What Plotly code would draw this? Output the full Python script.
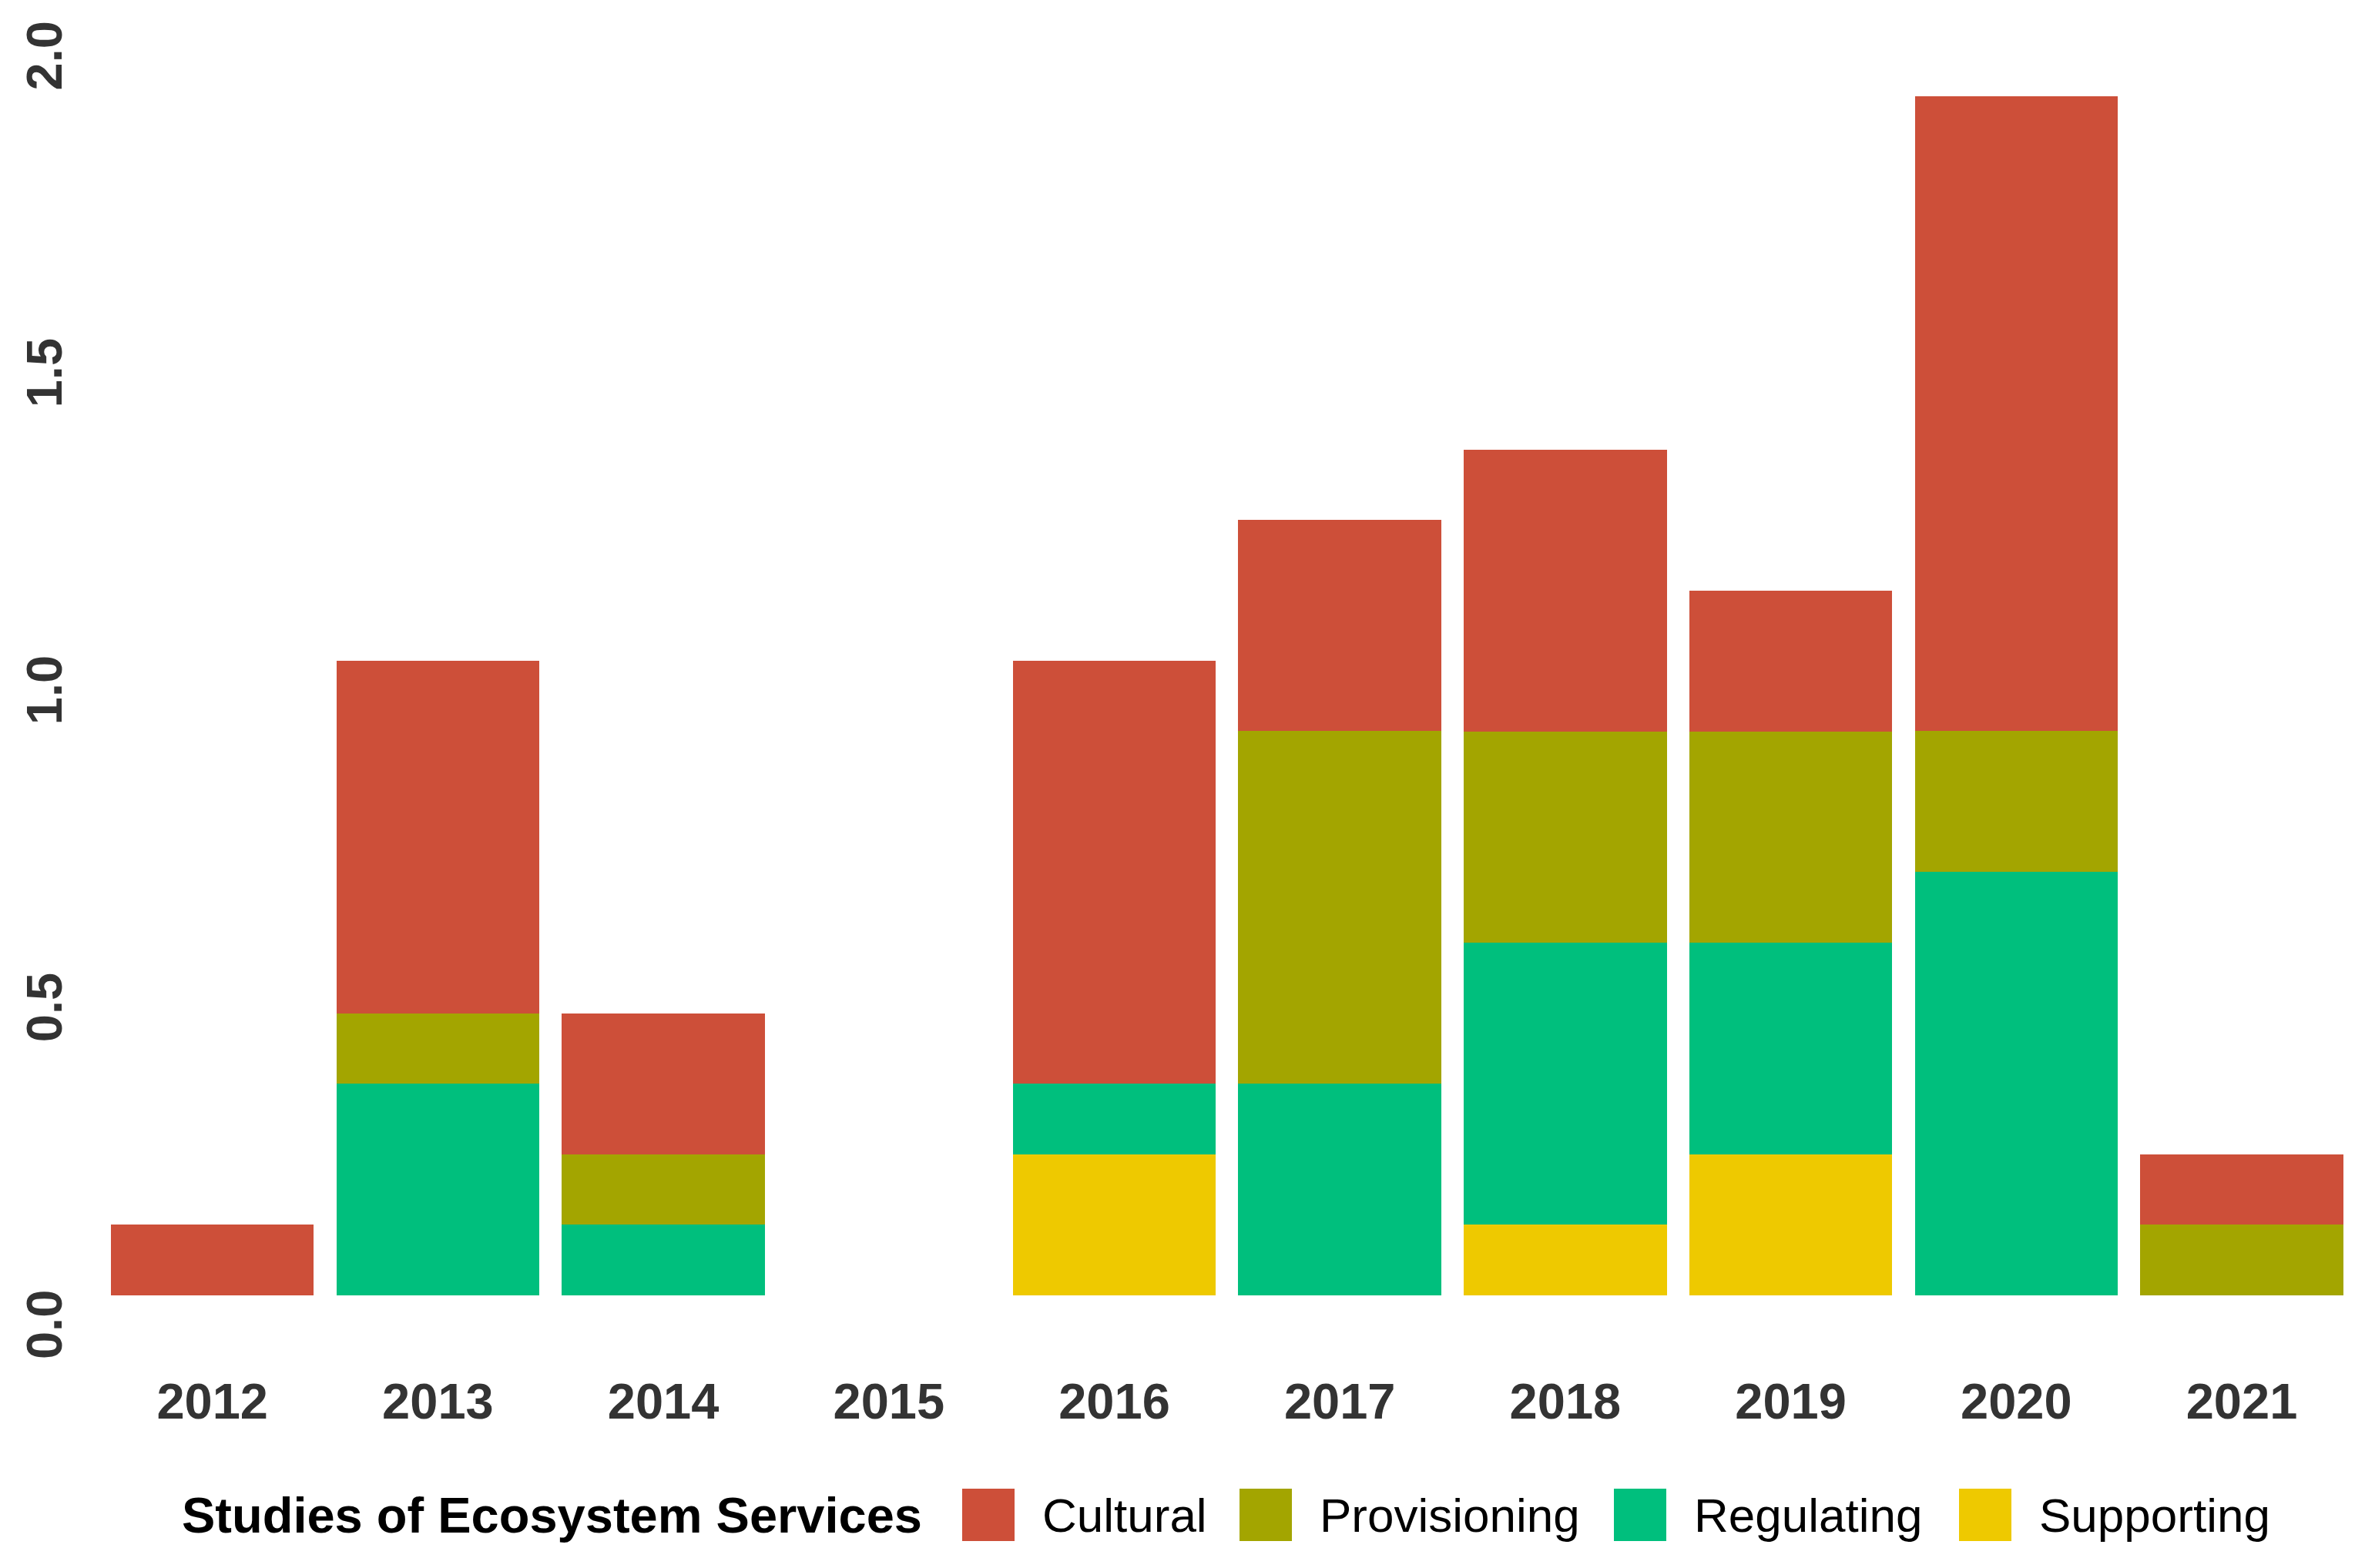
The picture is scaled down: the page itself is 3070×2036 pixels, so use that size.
import plotly.graph_objects as go

# ---- data ----
years = ["2012", "2013", "2014", "2015", "2016", "2017", "2018", "2019", "2020", "2021"]
cultural = [0.111, 0.556, 0.222, 0, 0.667, 0.333, 0.444, 0.222, 1.0, 0.111]
provisioning = [0, 0.111, 0.111, 0, 0, 0.556, 0.333, 0.333, 0.222, 0.111]
regulating = [0, 0.333, 0.111, 0, 0.111, 0.333, 0.444, 0.333, 0.667, 0]
supporting = [0, 0, 0, 0, 0.222, 0, 0.111, 0.222, 0, 0]
y_ticks = [0, 0.5, 1.0, 1.5, 2.0]
y_tick_labels = ["0.0", "0.5", "1.0", "1.5", "2.0"]
legend_title = "Studies of Ecosystem Services"
series_names = ["Cultural", "Provisioning", "Regulating", "Supporting"]

# ---- styles ----
colors = {"Cultural": "#CD4F39", "Provisioning": "#A3A500",
          "Regulating": "#00BF7D", "Supporting": "#EEC900"}
W, H = 3070, 2036
ML, MR, MT = 100, 0, 0
PLOT_BOTTOM = 1756
MB = H - PLOT_BOTTOM
FONT = "Liberation Sans"

fig = go.Figure()
# stacking bottom -> top
stack = [("Supporting", supporting), ("Regulating", regulating),
         ("Provisioning", provisioning), ("Cultural", cultural)]
for name, vals in stack:
    fig.add_trace(go.Bar(x=years, y=vals, name=name, width=0.9,
                         marker=dict(color=colors[name], line=dict(width=0)),
                         showlegend=False))

fig.update_layout(
    barmode="stack",
    width=W, height=H,
    margin=dict(l=ML, r=MR, t=MT, b=MB, pad=0),
    paper_bgcolor="white", plot_bgcolor="white",
    showlegend=False,
)
fig.update_xaxes(type="category", range=[-0.573, 9.574], showgrid=False,
                 zeroline=False, showline=False, ticks="",
                 tickfont=dict(family=FONT, size=65, color="#333333", weight="bold"),
                 ticklabelstandoff=12)
fig.update_yaxes(range=[-0.1, 2.0315], showgrid=False, zeroline=False,
                 showline=False, ticks="", tickvals=y_ticks, ticktext=y_tick_labels,
                 tickangle=-90,
                 tickfont=dict(family=FONT, size=65, color="#333333", weight="bold"),
                 ticklabelstandoff=14, ticklabelshift=48)

# ---- custom legend (large swatches) ----
def px_x(px):
    return (px - ML) / (W - ML - MR)

def px_y(py):
    return (PLOT_BOTTOM - py) / (PLOT_BOTTOM - MT)

legend_y = 1959
sw = 68
fig.add_annotation(text=legend_title, xref="paper", yref="paper",
                   x=px_x(226), y=px_y(legend_y), xanchor="left", yanchor="middle",
                   showarrow=False,
                   font=dict(family=FONT, size=65, color="black", weight="bold"))
swatch_left = [1241, 1601, 2087, 2535]
for name, sx in zip(series_names, swatch_left):
    fig.add_shape(type="rect", xref="paper", yref="paper",
                  x0=px_x(sx), x1=px_x(sx + sw),
                  y0=px_y(legend_y + sw / 2), y1=px_y(legend_y - sw / 2),
                  fillcolor=colors[name], line=dict(width=0))
    fig.add_annotation(text=name, xref="paper", yref="paper",
                       x=px_x(sx + sw + 34), y=px_y(legend_y), xanchor="left",
                       yanchor="middle", showarrow=False,
                       font=dict(family=FONT, size=62, color="black"))

fig.write_html("out.html")
